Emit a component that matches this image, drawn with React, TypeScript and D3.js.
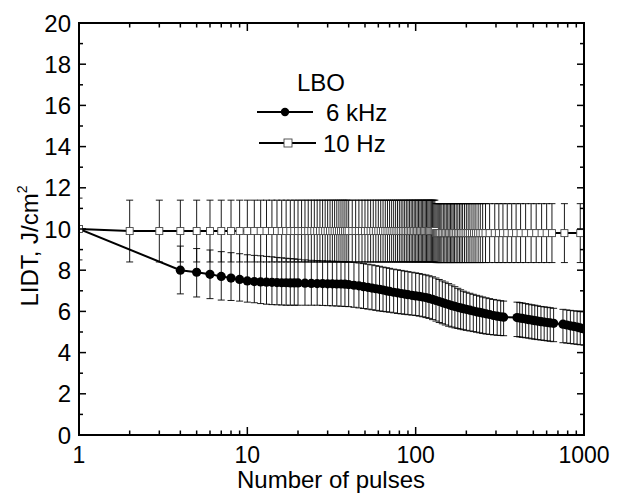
import React from 'react';
import * as d3 from 'd3';

// ---------- data ----------
// 10 Hz series
const hz10N = [1,2,3,4,5,6,7,8,9,10,11,12,13,14,15,16,17,18,19,20,21,22,23,24,25,26,27,28,29,30,31,32,33,34,35,36,37,38,39,40,42,44,46,48,50,52,54,56,58,60,62,64,66,68,70,72,74,76,78,80,82,84,86,88,90,92,94,96,98,100,102,104,106,108,110,112,114,116,118,120,122,124,126,128,130,
  132,134,136,138,140,143,146,149,152,155,
  158,161,164,167,170,174,178,182,186,190,
  195,200,205,210,216,222,228,235,242,250,
  260,275,295,312,330,350,372,395,420,450,
  485,520,560,600,645,765,950];
const hz10V = [10,9.9,9.9,9.9,9.9,9.9,9.9,9.9,9.9,9.9,9.9,9.9,9.9,9.9,9.9,9.9,9.9,9.9,9.9,9.9,9.9,9.9,9.9,9.9,9.9,9.9,9.9,9.9,9.9,9.9,9.9,9.9,9.9,9.9,9.9,9.9,9.9,9.9,9.9,9.9,9.9,9.9,9.9,9.9,9.9,9.9,9.9,9.9,9.9,9.9,9.9,9.9,9.9,9.9,9.9,9.9,9.9,9.9,9.9,9.9,9.9,9.9,9.9,9.9,9.9,9.9,9.9,9.9,9.9,9.9,9.9,9.9,9.9,9.9,9.9,9.9,9.9,9.9,9.9,9.9,9.9,9.9,9.9,9.9,9.9,
  9.8,9.8,9.8,9.8,9.8,9.8,9.8,9.8,9.8,9.8,
  9.8,9.8,9.8,9.8,9.8,9.8,9.8,9.8,9.8,9.8,
  9.8,9.8,9.8,9.8,9.8,9.8,9.8,9.8,9.8,9.8,
  9.8,9.8,9.8,9.8,9.8,9.8,9.8,9.8,9.8,9.8,
  9.8,9.8,9.8,9.8,9.8,9.8,9.8];
const hz10Err = [1.5,1.5,1.5,1.5,1.5,1.5,1.5,1.5,1.5,1.5,1.5,1.5,1.5,1.5,1.5,1.5,1.5,1.5,1.5,1.5,1.5,1.5,1.5,1.5,1.5,1.5,1.5,1.5,1.5,1.5,1.5,1.5,1.5,1.5,1.5,1.5,1.5,1.5,1.5,1.5,1.5,1.5,1.5,1.5,1.5,1.5,1.5,1.5,1.5,1.5,1.5,1.5,1.5,1.5,1.5,1.5,1.5,1.5,1.5,1.5,1.5,1.5,1.5,1.5,1.5,1.5,1.5,1.5,1.5,1.5,1.5,1.5,1.5,1.5,1.5,1.5,1.5,1.5,1.5,1.5,1.5,1.5,1.5,1.5,1.5,
  1.43,1.43,1.43,1.43,1.43,1.43,1.43,1.43,1.43,1.43,
  1.43,1.43,1.43,1.43,1.43,1.43,1.43,1.43,1.43,1.43,
  1.43,1.43,1.43,1.43,1.43,1.43,1.43,1.43,1.43,1.43,
  1.43,1.43,1.43,1.43,1.43,1.43,1.43,1.43,1.43,1.43,
  1.43,1.43,1.43,1.43,1.43,1.43,1.43];

// 6 kHz series (first point has no marker / error bar in the reference)
const khzN = [1,4,5,6,7,8,9,10,11,12,13,14,15,16,17,18,19,20,22,24,26,28,30,32,34,36,38,40,43,46,49,52,55,58,61,64,67,70,74,78,82,86,90,95,100,105,110,115,120,126,132,138,144,150,157,164,171,178,185,192,200,210,220,230,240,250,262,275,290,305,320,333,400,415,430,450,470,490,510,530,555,580,605,630,660,750,790,830,870,910,950,1000];
const khzV = [10,8.0,7.9,7.8,7.7,7.62,7.55,7.48,7.45,7.43,7.42,7.41,7.4,7.39,7.39,7.38,7.38,7.38,7.37,7.36,7.35,7.35,7.34,7.34,7.33,7.33,7.32,7.3,7.27,7.24,7.2,7.17,7.13,7.1,7.07,7.04,7.0,6.97,6.93,6.9,6.87,6.84,6.81,6.78,6.75,6.73,6.7,6.67,6.63,6.58,6.53,6.48,6.43,6.38,6.33,6.28,6.24,6.2,6.17,6.13,6.1,6.06,6.02,5.98,5.95,5.92,5.88,5.85,5.8,5.77,5.74,5.72,5.7,5.68,5.66,5.63,5.6,5.58,5.55,5.53,5.5,5.48,5.46,5.44,5.42,5.38,5.34,5.3,5.27,5.24,5.2,5.15];
const khzHi = [10,9.17,9.05,8.98,8.9,8.85,8.8,8.75,8.72,8.7,8.67,8.65,8.62,8.6,8.58,8.56,8.55,8.53,8.5,8.48,8.47,8.46,8.45,8.44,8.43,8.42,8.41,8.4,8.38,8.35,8.32,8.29,8.26,8.22,8.19,8.15,8.12,8.09,8.05,8.02,7.99,7.96,7.93,7.9,7.87,7.84,7.8,7.77,7.73,7.68,7.62,7.55,7.48,7.42,7.35,7.28,7.2,7.12,7.05,6.98,6.93,6.88,6.83,6.78,6.74,6.7,6.66,6.62,6.58,6.55,6.52,6.5,6.45,6.43,6.41,6.38,6.35,6.32,6.3,6.27,6.24,6.22,6.2,6.18,6.15,6.1,6.07,6.05,6.03,6.01,6.0,5.98];
const khzLo = [10,6.85,6.7,6.62,6.55,6.53,6.5,6.45,6.42,6.38,6.35,6.33,6.32,6.31,6.3,6.3,6.3,6.3,6.3,6.3,6.3,6.29,6.28,6.27,6.26,6.25,6.24,6.23,6.2,6.17,6.14,6.11,6.08,6.05,6.02,6.0,5.98,5.96,5.93,5.9,5.88,5.86,5.84,5.82,5.8,5.77,5.74,5.7,5.66,5.6,5.53,5.46,5.4,5.34,5.28,5.24,5.2,5.17,5.14,5.11,5.08,5.05,5.02,4.99,4.96,4.93,4.9,4.88,4.86,4.84,4.83,4.82,4.78,4.76,4.74,4.72,4.7,4.67,4.65,4.63,4.61,4.59,4.57,4.55,4.53,4.48,4.46,4.44,4.42,4.4,4.38,4.36];

const xTickLabels = ['1', '10', '100', '1000'];
const xTickValues = [1, 10, 100, 1000];
const yTickValues = [0, 2, 4, 6, 8, 10, 12, 14, 16, 18, 20];
const seriesNames = ['6 kHz', '10 Hz'];

// ---------- layout ----------
const W = 617, H = 493;
const L = 79, R = 584, T = 23, B = 435;
const FONT = '"Liberation Sans", Arial, Helvetica, sans-serif';

export default function App() {
  const x = d3.scaleLog().domain([1, 1000]).range([L, R]);
  const y = d3.scaleLinear().domain([0, 20]).range([B, T]);

  const hz10 = hz10N.map((n, i) => ({ n, v: hz10V[i], hi: hz10V[i] + hz10Err[i], lo: hz10V[i] - hz10Err[i] }));
  const khz = khzN.map((n, i) => ({ n, v: khzV[i], hi: khzHi[i], lo: khzLo[i] }));

  const line = d3.line<{ n: number; v: number }>().x(d => x(d.n)).y(d => y(d.v));

  const xMinor = x.ticks().filter(t => !xTickValues.includes(t));
  const yMinor = d3.range(1, 20, 2);
  const cap = 3.5;

  const errBars = (data: any[], key: string) =>
    data.map((d, i) => {
      if (d.hi === d.lo) return null;
      const cx = x(d.n);
      return (
        <g key={key + i} stroke="#000" strokeWidth={0.9} fill="none">
          <line x1={cx} x2={cx} y1={y(d.hi)} y2={y(d.lo)} />
          <line x1={cx - cap} x2={cx + cap} y1={y(d.hi)} y2={y(d.hi)} />
          <line x1={cx - cap} x2={cx + cap} y1={y(d.lo)} y2={y(d.lo)} />
        </g>
      );
    });

  return (
    <svg width={W} height={H} style={{ position: 'absolute', left: 0, top: 0, background: '#fff' }} fontFamily={FONT}>
      <rect x={0} y={0} width={W} height={H} fill="#fff" />
      <defs>
        <clipPath id="plot"><rect x={L} y={T} width={R - L} height={B - T} /></clipPath>
      </defs>

      <g clipPath="url(#plot)">
        {errBars(hz10, 'h')}
        {errBars(khz, 'k')}
        <path d={line(hz10) || ''} fill="none" stroke="#000" strokeWidth={2} />
        <path d={line(khz) || ''} fill="none" stroke="#000" strokeWidth={2} />
        {hz10.map((d, i) => (
          <rect key={'s' + i} x={x(d.n) - 3.5} y={y(d.v) - 3.5} width={7} height={7} fill="#fff" stroke="#444" strokeWidth={0.9} />
        ))}
        {khz.map((d, i) => i === 0 ? null : (
          <circle key={'c' + i} cx={x(d.n)} cy={y(d.v)} r={4.6} fill="#000" />
        ))}
      </g>

      {/* frame */}
      <rect x={L} y={T} width={R - L} height={B - T} fill="none" stroke="#000" strokeWidth={2} />

      {/* x ticks */}
      {xTickValues.map((t, i) => (
        <g key={'xt' + i} stroke="#000" strokeWidth={1.5}>
          <line x1={x(t)} x2={x(t)} y1={B} y2={B - 8} />
          <line x1={x(t)} x2={x(t)} y1={T} y2={T + 8} />
        </g>
      ))}
      {xMinor.map((t, i) => (
        <g key={'xm' + i} stroke="#000" strokeWidth={1.5}>
          <line x1={x(t)} x2={x(t)} y1={B} y2={B - 4.5} />
          <line x1={x(t)} x2={x(t)} y1={T} y2={T + 4.5} />
        </g>
      ))}
      {xTickValues.map((t, i) => (
        <text key={'xl' + i} x={x(t)} y={463} fontSize={23} textAnchor="middle" fill="#000">{xTickLabels[i]}</text>
      ))}

      {/* y ticks */}
      {yTickValues.map((t, i) => (
        <g key={'yt' + i} stroke="#000" strokeWidth={1.5}>
          <line x1={L} x2={L + 7} y1={y(t)} y2={y(t)} />
          <line x1={R} x2={R - 7} y1={y(t)} y2={y(t)} />
        </g>
      ))}
      {yMinor.map((t, i) => (
        <g key={'ym' + i} stroke="#000" strokeWidth={1.5}>
          <line x1={L} x2={L + 4} y1={y(t)} y2={y(t)} />
          <line x1={R} x2={R - 4} y1={y(t)} y2={y(t)} />
        </g>
      ))}
      {yTickValues.map((t, i) => (
        <text key={'yl' + i} x={71} y={y(t) + 8.5} fontSize={24} textAnchor="end" fill="#000">{String(t)}</text>
      ))}

      {/* axis titles */}
      <text x={331} y={488} fontSize={24} textAnchor="middle" fill="#000">Number of pulses</text>
      <text transform="translate(38,246) rotate(-90)" fontSize={24} textAnchor="middle" fill="#000">
        LIDT, J/cm<tspan fontSize={14} dy={-11}>2</tspan>
      </text>

      {/* annotation + legend */}
      <text x={321} y={91} fontSize={24} textAnchor="middle" fill="#000">LBO</text>
      <g>
        <line x1={257} x2={313} y1={112} y2={112} stroke="#000" strokeWidth={2} />
        <circle cx={285} cy={112} r={4.2} fill="#000" />
        <text x={326} y={121} fontSize={24} fill="#000">{seriesNames[0]}</text>
        <line x1={259} x2={316} y1={143} y2={143} stroke="#000" strokeWidth={2} />
        <rect x={284} y={139} width={8} height={8} fill="#fff" stroke="#444" strokeWidth={0.9} />
        <text x={323} y={152} fontSize={24} fill="#000">{seriesNames[1]}</text>
      </g>
    </svg>
  );
}
